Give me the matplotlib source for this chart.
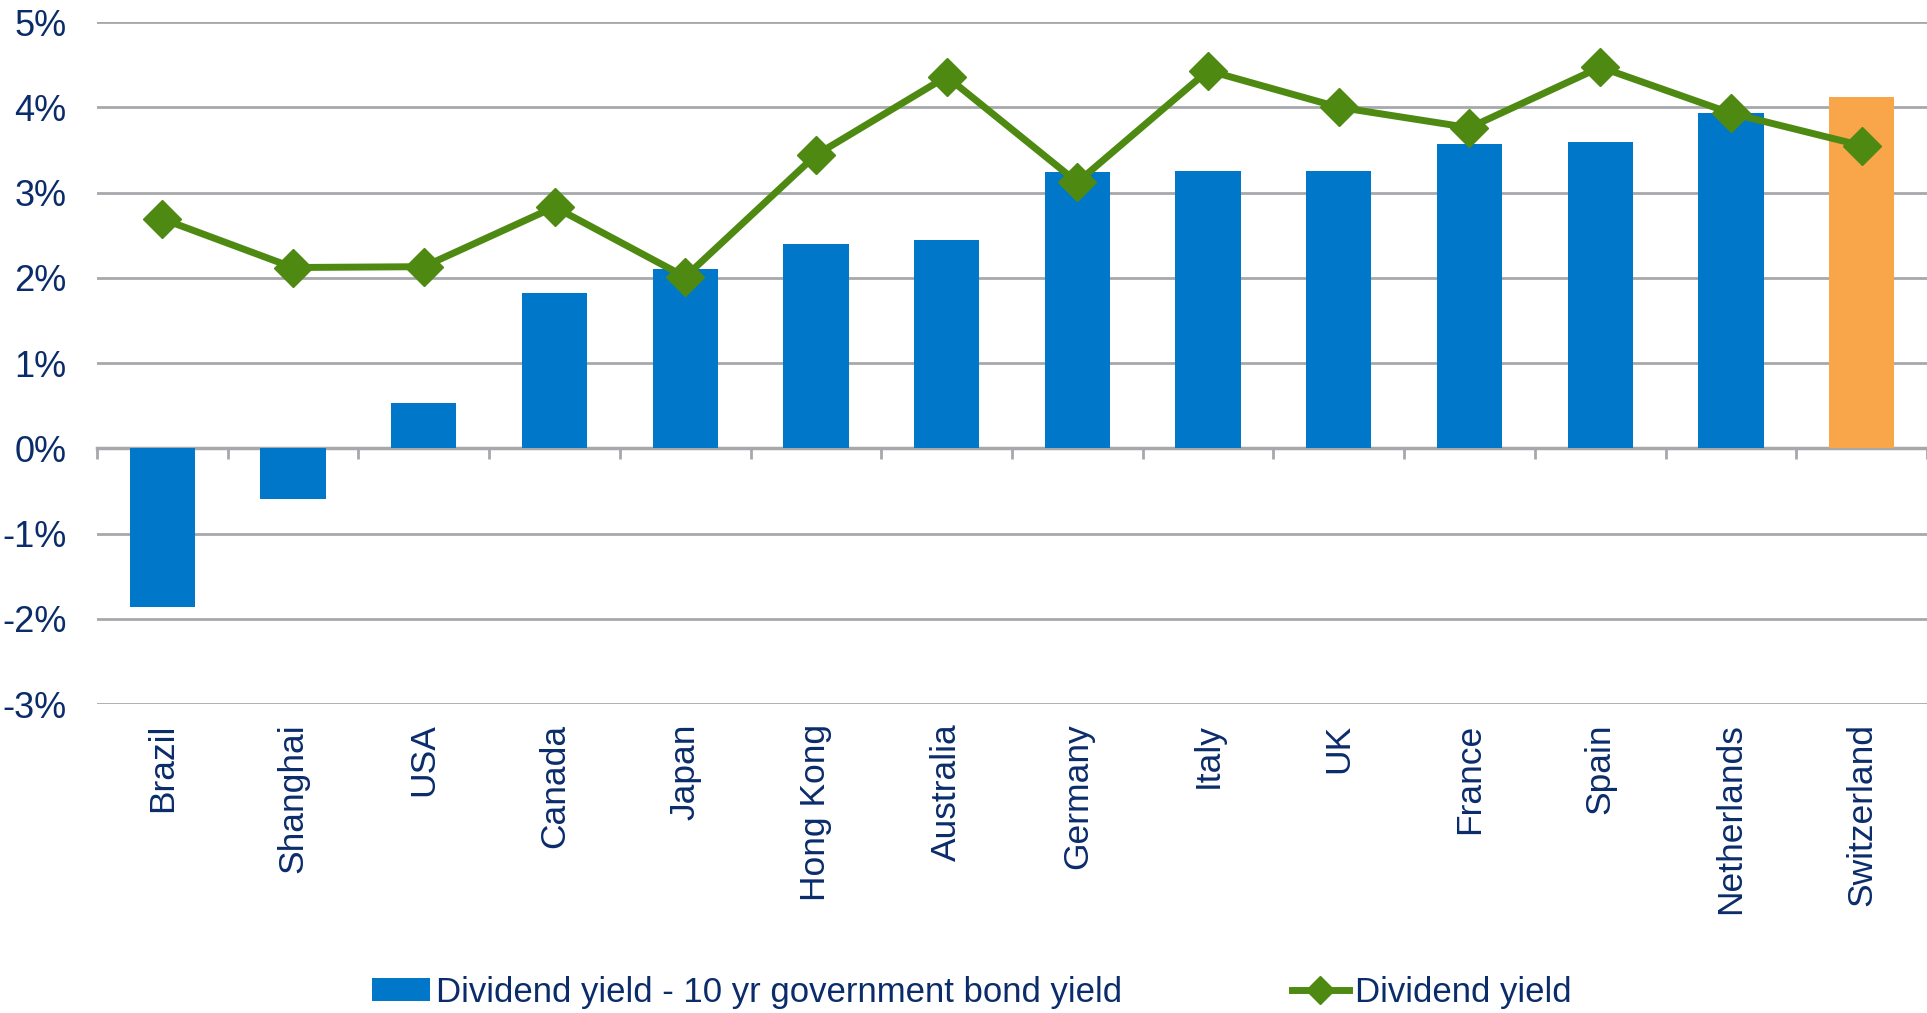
import matplotlib as mpl
mpl.use('Agg')
import matplotlib.pyplot as plt
from matplotlib.patches import Patch
from matplotlib.lines import Line2D
import numpy as np

plt.rcParams['font.family'] = ['Liberation Sans', 'DejaVu Sans']

countries = ['Brazil', 'Shanghai', 'USA', 'Canada', 'Japan', 'Hong Kong',
             'Australia', 'Germany', 'Italy', 'UK', 'France', 'Spain',
             'Netherlands', 'Switzerland']
yield_gap = [-1.86, -0.60, 0.53, 1.82, 2.10, 2.40, 2.44, 3.24, 3.25, 3.25,
             3.57, 3.59, 3.93, 4.12]
div_yield = [2.69, 2.12, 2.13, 2.83, 2.01, 3.44, 4.36, 3.12, 4.43, 4.00,
             3.76, 4.47, 3.93, 3.55]
y_ticks = [-3, -2, -1, 0, 1, 2, 3, 4, 5]

navy = '#0B2C6B'
blue = '#0077C8'
orange = '#F9A64A'
green = '#4E8A12'
grid_grey = '#A6A8AB'

fig = plt.figure(figsize=(19.27, 10.13), dpi=100)
ax = fig.add_axes([97 / 1927, 1 - 704 / 1013, 1 - 97 / 1927, 682 / 1013])

x = np.arange(len(countries))
colors = [blue] * (len(countries) - 1) + [orange]
ax.bar(x, yield_gap, width=0.5, color=colors, zorder=2)
ax.plot(x, div_yield, color=green, linewidth=5, marker='D', markersize=19,
        zorder=3)

ax.set_xlim(-0.5, len(countries) - 0.5)
ax.set_ylim(-3, 5)
ax.set_yticks(y_ticks)
ax.set_yticklabels([f'{v}%' for v in y_ticks])
ax.yaxis.grid(True, color=grid_grey, linewidth=2, zorder=0)
ax.set_axisbelow(True)
for s in ax.spines.values():
    s.set_visible(False)
ax.tick_params(axis='y', length=0, pad=22, labelsize=26, labelcolor=navy)

ax.set_xticks(x)
ax.set_xticklabels(countries, rotation=90, fontsize=25.5, color=navy)
ax.tick_params(axis='x', length=0, pad=14)

# zero line with category tick marks
zero_ax = ax.secondary_xaxis(3 / 8)
zero_ax.set_xticks(np.arange(len(countries) + 1) - 0.5)
zero_ax.set_xticklabels([])
zero_ax.spines['bottom'].set_color(grid_grey)
zero_ax.spines['bottom'].set_linewidth(2.5)
zero_ax.tick_params(direction='out', length=8, width=2, color=grid_grey)

handles = [Patch(facecolor=blue, edgecolor='none'),
           Line2D([], [], color=green, linewidth=5, marker='D', markersize=14)]
labels = ['Dividend yield - 10 yr government bond yield', 'Dividend yield']
fig.legend(handles, labels, loc='center', ncol=2,
           bbox_to_anchor=(972 / 1927, 1 - 992 / 1013), frameon=False,
           fontsize=25, labelcolor=navy, columnspacing=4.9,
           handlelength=1.65, handletextpad=0.17, handleheight=0.65)

fig.savefig('out.png', dpi=100)
